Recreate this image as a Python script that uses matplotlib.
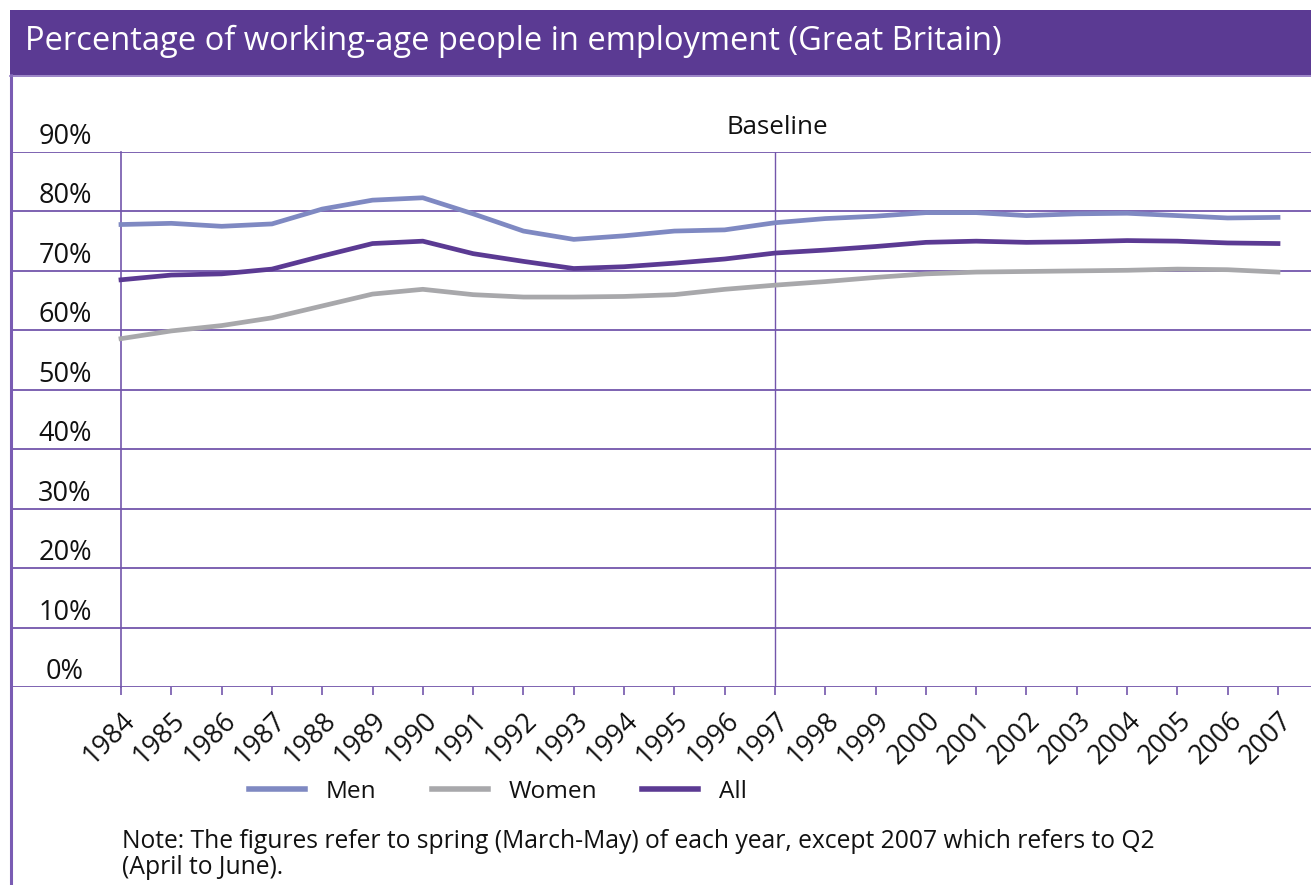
import matplotlib
matplotlib.use("Agg")
import matplotlib.pyplot as plt
from matplotlib.patches import Rectangle
from matplotlib.lines import Line2D
from matplotlib.transforms import ScaledTranslation

plt.rcParams["font.family"] = ["Open Sans", "DejaVu Sans"]

years = list(range(1984, 2008))
men = [77.8, 78.0, 77.5, 77.9, 80.4, 81.9, 82.3, 79.6, 76.7, 75.3, 75.9, 76.7,
       76.9, 78.1, 78.8, 79.2, 79.8, 79.8, 79.3, 79.6, 79.7, 79.3, 78.9, 79.0]
women = [58.6, 59.9, 60.8, 62.1, 64.1, 66.1, 66.9, 66.0, 65.6, 65.6, 65.7, 66.0,
         66.9, 67.6, 68.2, 68.9, 69.5, 69.8, 69.9, 70.0, 70.1, 70.3, 70.2, 69.8]
all_people = [68.5, 69.3, 69.5, 70.3, 72.5, 74.6, 75.0, 72.9, 71.6, 70.4, 70.7, 71.3,
              72.0, 73.0, 73.5, 74.1, 74.8, 75.0, 74.8, 74.9, 75.1, 75.0, 74.7, 74.6]
y_ticks = [0, 10, 20, 30, 40, 50, 60, 70, 80, 90]
baseline_year = 1997

title = "Percentage of working-age people in employment (Great Britain)"
note_lines = ["Note: The figures refer to spring (March-May) of each year, except 2007 which refers to Q2",
              "(April to June)."]

PURPLE = "#5b3a93"
GRID = "#7356ab"
MEN_C = "#7f89c2"
WOMEN_C = "#a8a8ab"
INK = "#111111"

W, H = 1311, 885
fig = plt.figure(figsize=(W / 100, H / 100), dpi=100)


def fy(py):
    """Figure fraction for a pixel row measured from the top."""
    return 1 - py / H


# title bar and left frame rule
fig.patches.append(Rectangle((10 / W, fy(75)), 1 - 10 / W, 65 / H,
                             transform=fig.transFigure, facecolor=PURPLE,
                             edgecolor="none", zorder=0))
fig.lines.append(Line2D([11 / W, 11 / W], [0, fy(75)], transform=fig.transFigure,
                        color="#7a5cb3", lw=2.2))
fig.lines.append(Line2D([10 / W, 1], [fy(75.5), fy(75.5)], transform=fig.transFigure,
                        color="#8a70bd", lw=1.2))
fig.text(25 / W, fy(50), title, color="white", fontsize=23.5, va="baseline", ha="left")

# plot area spans the full width; 1984 sits at x = 121 px
left_px, right_px, top_px, bot_px = 10, W, 152, 687
ax = fig.add_axes([left_px / W, fy(bot_px), (right_px - left_px) / W, (bot_px - top_px) / H])
px_per_year = (1278 - 121) / 23
ax.set_xlim(1984 - (121 - left_px) / px_per_year, 2007 + (W - 1278) / px_per_year)
ax.set_ylim(0, 90)

for s in ["top", "right", "bottom"]:
    ax.spines[s].set_visible(False)
ax.spines["left"].set_position(("data", 1984))
ax.spines["left"].set_color(GRID)
ax.spines["left"].set_linewidth(1.2)

for v in y_ticks:
    ax.axhline(v, color=GRID, lw=1.3, zorder=1)
ax.axvline(baseline_year, color=GRID, lw=1.0, zorder=1)

series = [("Men", men, MEN_C, 3), ("Women", women, WOMEN_C, 3), ("All", all_people, PURPLE, 4)]
handles = []
for name, vals, col, z in series:
    h, = ax.plot(years, vals, color=col, lw=3.4, solid_joinstyle="round", zorder=z, label=name)
    handles.append(h)

ax.annotate("Baseline", xy=(baseline_year, 90), xytext=(2, 13), textcoords="offset points",
            ha="center", va="baseline", fontsize=18.6, color=INK)

ax.set_yticks(y_ticks)
ax.set_yticklabels([f"{v}%" for v in y_ticks])
ax.tick_params(axis="y", length=0, pad=40.3, labelsize=19.5, labelcolor=INK)
for lab in ax.get_yticklabels():
    lab.set_horizontalalignment("center")
    lab.set_verticalalignment("baseline")
    lab.set_transform(lab.get_transform() + ScaledTranslation(0, 0.08, fig.dpi_scale_trans))

ax.set_xticks(years)
ax.set_xticklabels([str(y) for y in years], rotation=45, ha="right", rotation_mode="anchor")
ax.tick_params(axis="x", length=6, width=1.2, color=GRID, pad=8, labelsize=19.3,
               labelcolor=INK)

# legend entries, one per column
legend_x = [249, 432, 642]
for h, lx in zip(handles, legend_x):
    leg = fig.legend(handles=[h], loc="center left", bbox_to_anchor=(lx / W, fy(792)),
                     frameon=False, fontsize=17.6, handlelength=2.3, handletextpad=0.85,
                     borderpad=0, borderaxespad=0)
    for ln in leg.get_lines():
        ln.set_linewidth(4)
    for t in leg.get_texts():
        t.set_color(INK)

fig.text(122 / W, fy(848), note_lines[0], fontsize=17.75, ha="left", va="baseline", color=INK)
fig.text(122 / W, fy(874), note_lines[1], fontsize=17.75, ha="left", va="baseline", color=INK)

fig.savefig("out.png", dpi=100)
